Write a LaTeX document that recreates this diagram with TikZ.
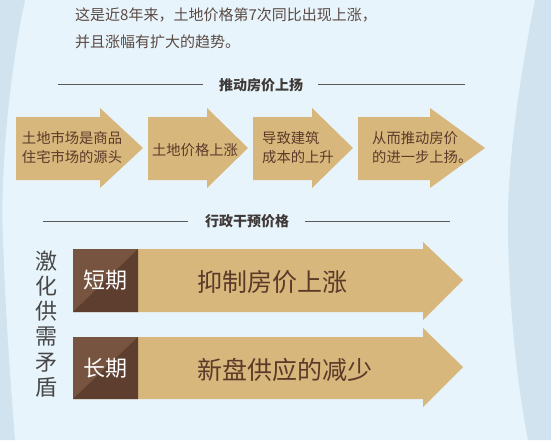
\documentclass[tikz,border=0pt]{standalone}
\usepackage{fontspec}
\usepackage{tikz}
\newfontfamily\cjk{Noto Sans CJK SC}

\definecolor{bgblue}{HTML}{E8F4FB}
\definecolor{edgeblue}{HTML}{D0E3EE}
\definecolor{tan}{HTML}{D7B77C}
\definecolor{arrowtext}{HTML}{5B3A29}
\definecolor{introtext}{HTML}{5A4A45}
\definecolor{headtext}{HTML}{3F3A38}
\definecolor{darklight}{HTML}{76543F}
\definecolor{darkdeep}{HTML}{5E3F2F}

\begin{document}
\begin{tikzpicture}[x=1pt, y=-1pt]

    \tikzset{
        txt/.style={inner sep=0pt, font=\cjk},
        intro/.style={txt, anchor=west, text=introtext, font=\cjk\fontsize{15}{15}\selectfont},
        heading/.style={txt, text=headtext, font=\cjk\bfseries\fontsize{14}{14}\selectfont},
        steptext/.style={txt, text=arrowtext, align=left, font=\cjk\fontsize{14.3}{19}\selectfont},
        termtext/.style={txt, text=white, font=\cjk\fontsize{22}{22}\selectfont},
        bigtext/.style={txt, anchor=west, text=arrowtext, font=\cjk\fontsize{25}{25}\selectfont},
        rule/.style={draw=black!65, line width=0.8pt}
    }

    % Background + curved edges
    \useasboundingbox (0,0) rectangle (551,440);
    \fill[bgblue] (0,0) rectangle (551,440);
    \fill[edgeblue] (0,0) -- (25,0) .. controls (8,80) and (0,180) .. (3,240)
        .. controls (6,330) and (12,400) .. (15,440) -- (0,440) -- cycle;
    \fill[edgeblue] (551,0) -- (535,0) .. controls (515,100) and (507,180) .. (508,230)
        .. controls (509,320) and (520,400) .. (528,440) -- (551,440) -- cycle;

    % Intro text
    \node[intro] (intro1) at (75,15) {这是近8年来，土地价格第7次同比出现上涨，};
    \node[intro] (intro2) at (75,42) {并且涨幅有扩大的趋势。};

    % First heading
    \node[heading] (head1) at (261,85) {推动房价上扬};
    \draw[rule] (58,84) -- (203,84);
    \draw[rule] (318,84) -- (465,84);

    % Chain of arrows
    \foreach \xa/\xb/\xc in {16/100/143, 148/207/248, 253/312/353, 358/430/485}
        \fill[tan] (\xa,117) -- (\xb,117) -- (\xb,108) -- (\xc,148)
            -- (\xb,188) -- (\xb,180) -- (\xa,180) -- cycle;

    \node[steptext] (source) at (72,147.5) {土地市场是商品\\住宅市场的源头};
    \node[steptext] (landup) at (195,150) {土地价格上涨};
    \node[steptext, anchor=west] (costup) at (262,147.5) {导致建筑\\成本的上升};
    \node[steptext, anchor=west] (priceup) at (372,147.5) {从而推动房价\\的进一步上扬。};

    % Second heading
    \node[heading] (head2) at (247,221) {行政干预价格};
    \draw[rule] (43,221) -- (188,221);
    \draw[rule] (305,221) -- (450,221);

    % Big arrows
    \fill[tan] (73,249) -- (423,249) -- (423,242) -- (463,280)
        -- (423,320) -- (423,312) -- (73,312) -- cycle;
    \fill[tan] (73,337) -- (423,337) -- (423,328) -- (463,367)
        -- (423,407) -- (423,399) -- (73,399) -- cycle;

    % Dark squares
    \fill[darklight] (73,249) rectangle (138,312);
    \fill[darkdeep] (73,312) -- (138,249) -- (138,312) -- cycle;
    \fill[darklight] (73,337) rectangle (138,399);
    \fill[darkdeep] (73,399) -- (138,337) -- (138,399) -- cycle;

    \node[termtext] (short) at (105.5,280.5) {短期};
    \node[termtext] (long) at (105.5,368) {长期};
    \node[bigtext] (curb) at (197,282) {抑制房价上涨};
    \node[bigtext] (supply) at (197,370) {新盘供应的减少};

    % Vertical label
    \node[txt, text=black!72, align=center, font=\cjk\fontsize{22}{25.2}\selectfont]
        (conflict) at (46,324) {激\\化\\供\\需\\矛\\盾};

\end{tikzpicture}
\end{document}
